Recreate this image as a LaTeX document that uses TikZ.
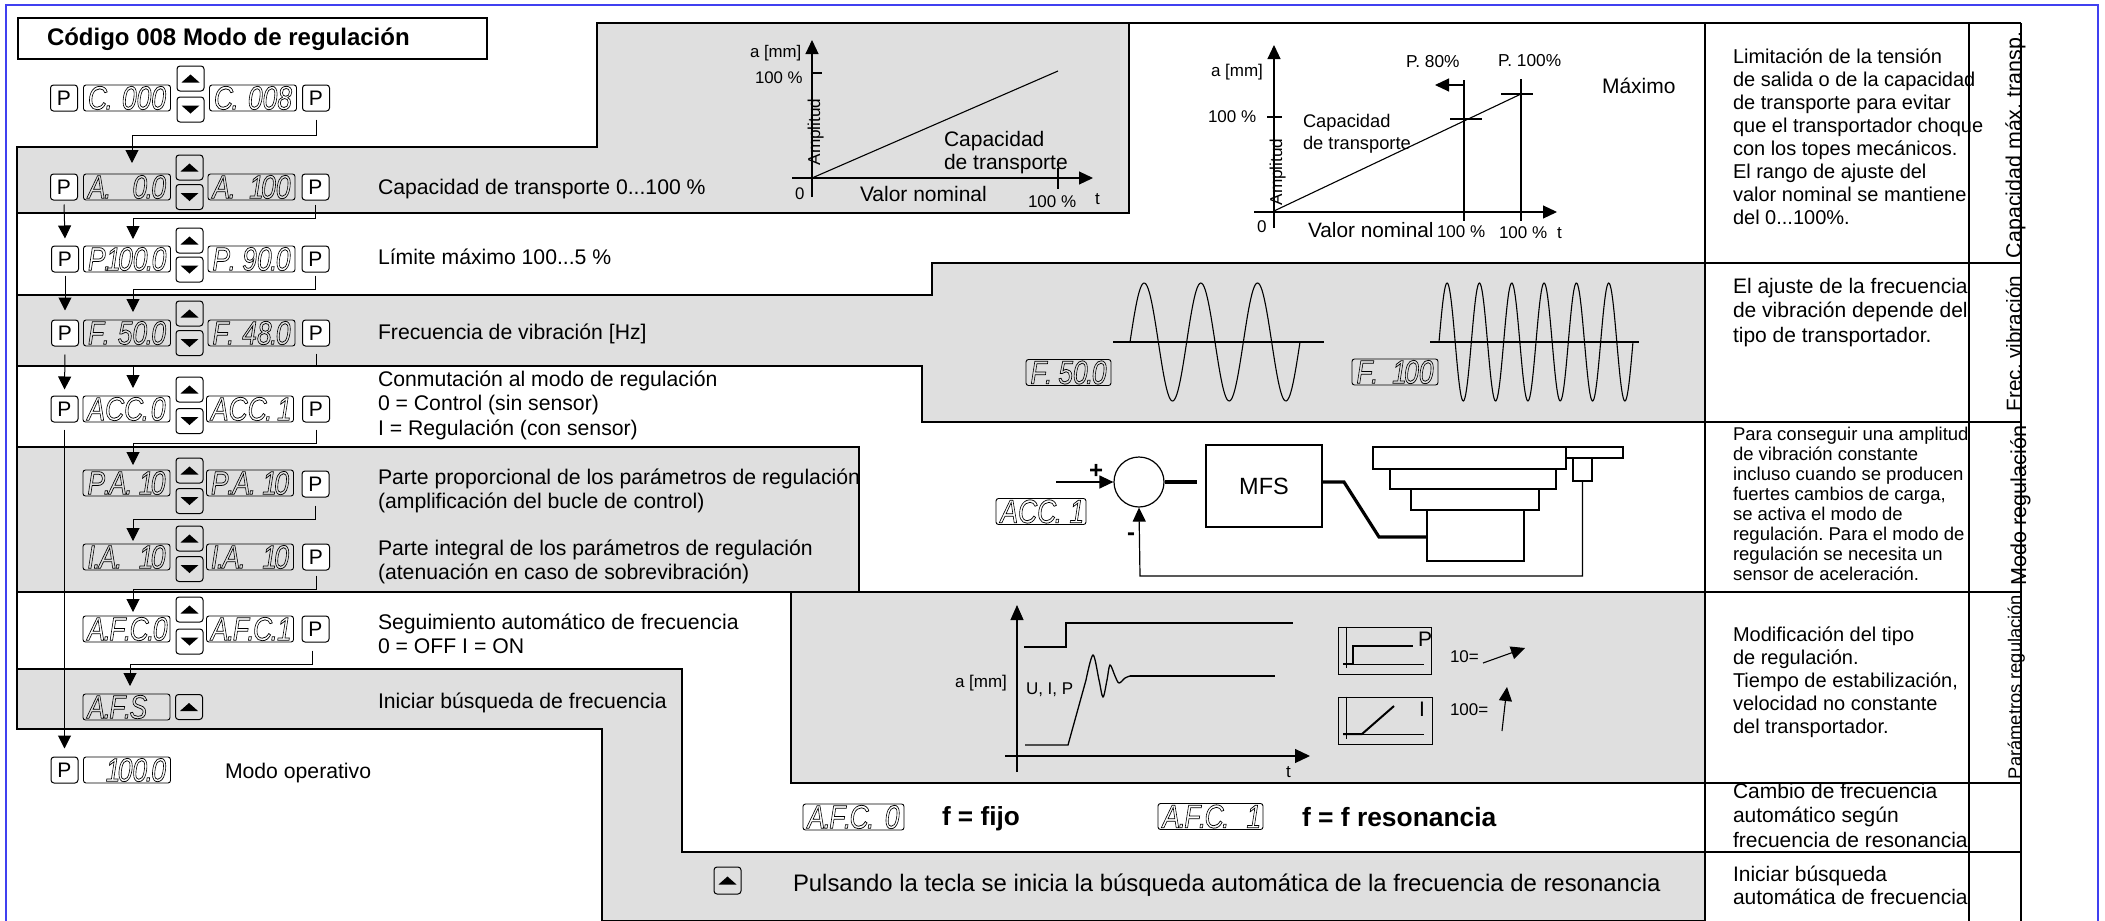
\documentclass[tikz,border=0pt]{standalone}
\usepackage{fontspec}
\setmainfont{Liberation Sans}
\usetikzlibrary{arrows.meta,calc}
\definecolor{panel}{HTML}{DFDFDF}
\definecolor{frameblue}{RGB}{64,64,240}
\frenchspacing
\newcommand\dd{{\kern-.06em.\kern-.06em}}
\newcommand\onee{{\kern-.14em 1\kern-.1em}}
\newcommand\ledtxt[1]{\scalebox{.8}[1]{\special{pdf:code 1 Tr 0.75 w}\itshape\fontsize{33}{33}\selectfont #1\special{pdf:code 0 Tr 1 w}}}
\newcommand\lne[1]{\hbox{#1}}
% name, x, y (first baseline), size, line skip, lines
\newcommand\mt[6]{\node[txt,font=\fontsize{#4}{#5}\selectfont] (#1) at (#2,#3) {\vtop{\baselineskip=#5pt #6}};}
% name, cx, cy, width, left part, right part
\newcommand\dsp[6]{\node[disp,minimum width=#4pt] (#1) at (#2,#3) {\hbox to \dimexpr#4pt-9pt\relax{\ledtxt{#5}\hfill\ledtxt{#6}}};}
\tikzset{
  txt/.style={anchor=base west,inner sep=0pt,outer sep=0pt},
  vtxt/.style={anchor=base,inner sep=0pt,outer sep=0pt,rotate=90},
  region/.style={fill=panel,draw=black,line width=1.5pt},
  rule/.style={draw=black,line width=1.2pt},
  axis/.style={draw=black,line width=1.1pt},
  trace/.style={draw=black,line width=1.3pt},
  heavy/.style={draw=black,line width=3.2pt},
  flow/.style={draw=black,line width=1pt,-{Triangle[length=13pt,width=13pt]}},
  bigtip/.style={draw=black,line width=1.1pt,-{Triangle[length=14pt,width=14pt]}},
  pkey/.style={draw=black,fill=white,line width=1pt,rounded corners=3pt,minimum width=27pt,minimum height=26pt,inner sep=0pt,font=\fontsize{21}{21}\selectfont},
  arrowkey/.style={draw=black,line width=1pt,rounded corners=3pt,minimum width=27pt,minimum height=25pt,inner sep=0pt},
  upkey/.style={arrowkey,path picture={\fill[black,sharp corners] (path picture bounding box.center) ++(-9,4) -- ++(18,0) -- ++(-9,-8) -- cycle;}},
  downkey/.style={arrowkey,path picture={\fill[black,sharp corners] (path picture bounding box.center) ++(-9,-4) -- ++(18,0) -- ++(-9,8) -- cycle;}},
  disp/.style={draw=black,line width=.9pt,rounded corners=2.5pt,minimum height=26pt,inner sep=0pt},
  box/.style={draw=black,line width=1.2pt,inner sep=0pt}
}
\begin{document}
\begin{tikzpicture}[x=1pt,y=-1pt]
\useasboundingbox (0,0) rectangle (2105,921);
\fill[white] (0,0) rectangle (2105,921);
% page frame
\draw[frameblue,line width=1.5pt] (6,921) -- (6,5) -- (2098,5) -- (2098,921);
% shaded panels
\path[region] (597,23) -- (1129,23) -- (1129,213) -- (17,213) -- (17,147) -- (597,147) -- cycle;
\path[region] (932,263) -- (1705,263) -- (1705,422) -- (922,422) -- (922,366) -- (17,366) -- (17,295) -- (932,295) -- cycle;
\path[region] (17,447) -- (859,447) -- (859,592) -- (17,592) -- cycle;
\path[region] (791,592) -- (1705,592) -- (1705,783) -- (791,783) -- cycle;
\path[region] (17,669) -- (682,669) -- (682,852) -- (1705,852) -- (1705,921) -- (602,921) -- (602,729) -- (17,729) -- cycle;
% table rules
\draw[region,fill=none] (17,147) -- (17,729);
\draw[rule] (1129,23) -- (2021,23);
\draw[rule,line width=1.5pt] (1705,23) -- (1705,921);
\draw[rule,line width=1.5pt] (1969,23) -- (1969,921);
\draw[rule] (2021,23) -- (2021,921);
\foreach \yy in {263,422,592,783,852} {\draw[rule] (1705,\yy) -- (2021,\yy);}
% title
\node[box,fill=white,minimum width=469pt,minimum height=41pt] (titlebox) at (252.5,38.5) {};
\mt{title}{47}{45}{24}{28}{\lne{\bfseries Código 008 Modo de regulación}}

% row C
\node[pkey] (p0a) at (64,98) {P};
\dsp{d0a}{127}{98}{87}{C\dd}{000}
\node[upkey] (u0) at (190.5,78.5) {};
\node[downkey] (w0) at (190.5,109.5) {};
\dsp{d0b}{253}{98}{87}{C\dd}{008}
\node[pkey] (p0b) at (316,98) {P};
% row A
\node[pkey] (p1a) at (64,187) {P};
\dsp{d1a}{127}{187}{87}{A\dd}{0\dd 0}
\node[upkey] (u1) at (189.5,167.5) {};
\node[downkey] (w1) at (189.5,197) {};
\dsp{d1b}{251.5}{187}{87}{A\dd}{\onee 00}
\node[pkey] (p1b) at (315.5,187) {P};
% row P
\node[pkey] (p2a) at (65,259) {P};
\dsp{d2a}{127}{259}{87}{P\dd}{\onee 00\dd 0}
\node[upkey] (u2) at (189.5,240.5) {};
\node[downkey] (w2) at (189.5,269.5) {};
\dsp{d2b}{251.5}{259}{87}{P\dd}{90\dd 0}
\node[pkey] (p2b) at (315.5,259) {P};
% row F
\node[pkey] (p3a) at (65,333) {P};
\dsp{d3a}{127}{333}{87}{F\dd}{50\dd 0}
\node[upkey] (u3) at (189.5,313.5) {};
\node[downkey] (w3) at (189.5,343) {};
\dsp{d3b}{251.5}{333}{87}{F\dd}{48\dd 0}
\node[pkey] (p3b) at (316,333) {P};
% row ACC
\node[pkey] (p4a) at (64.5,409) {P};
\dsp{d4a}{126.5}{409}{87}{ACC\dd}{0}
\node[upkey] (u4) at (189.5,389.5) {};
\node[downkey] (w4) at (189.5,421) {};
\dsp{d4b}{250}{409}{87}{ACC\dd}{\onee}
\node[pkey] (p4b) at (316,409) {P};
% row P.A.
\dsp{d5a}{126.5}{483}{87}{P\dd A\dd}{\onee 0}
\node[upkey] (u5) at (189.5,470.5) {};
\node[downkey] (w5) at (189.5,501) {};
\dsp{d5b}{250}{483}{87}{P\dd A\dd}{\onee 0}
\node[pkey] (p5b) at (315.5,484) {P};
% row I.A.
\dsp{d6a}{126.5}{557}{87}{I\dd A\dd}{\onee 0}
\node[upkey] (u6) at (189.5,538.5) {};
\node[downkey] (w6) at (189.5,569) {};
\dsp{d6b}{250}{557}{87}{I\dd A\dd}{\onee 0}
\node[pkey] (p6b) at (316,557) {P};
% row A.F.C.
\dsp{d7a}{126.5}{629}{87}{A\dd F\dd C\dd}{0}
\node[upkey] (u7) at (189.5,609.5) {};
\node[downkey] (w7) at (189.5,641.5) {};
\dsp{d7b}{250}{629}{87}{A\dd F\dd C\dd}{\onee}
\node[pkey] (p7b) at (315.5,629) {P};
% row A.F.S.
\dsp{d8a}{126.5}{707}{87}{A\dd F\dd S}{}
\node[upkey] (u8) at (189,707) {};
% operating mode
\node[pkey] (p9a) at (64.5,770) {P};
\dsp{d9a}{127}{770}{87}{}{\onee 00\dd 0}

% connector ends
\coordinate (c1) at (132,163);
\coordinate (c2) at (133,239);
\coordinate (c3) at (133,312);
\coordinate (c4) at (133,388);
\coordinate (c5) at (133,465);
\coordinate (c6) at (133,541);
\coordinate (c7) at (133,612);
\coordinate (c8) at (130,686);
% connectors
\draw[flow] ([yshift=-8pt]p0b.south) -- ++(0,16) -| (c1);
\draw[flow] ([yshift=-4pt]p1b.south) -- ++(0,14) -| (c2);
\draw[flow] ([yshift=-3pt]p2b.south) -- ++(0,14) -| (c3);
\draw[flow] ([yshift=-7pt]p3b.south) -- ++(0,13) -| (c4);
\draw[flow] ([yshift=-7pt]p4b.south) -- ++(0,14) -| (c5);
\draw[flow] ([yshift=-8pt]p5b.south) -- ++(0,14) -| (c6);
\draw[flow] ([yshift=-5pt]p6b.south) -- ++(0,14) -| (c7);
\draw[flow] ([yshift=-8pt,xshift=-3pt]p7b.south) -- ++(0,14) -| (c8);
\draw[flow] ([yshift=-4pt]p1a.south) -- ([yshift=7pt]p2a.north);
\draw[flow] ([yshift=-3pt]p2a.south) -- ([yshift=9pt]p3a.north);
\draw[flow] ([yshift=-8pt]p3a.south) -- ([yshift=6pt]p4a.north);
\draw[flow] ([yshift=-7pt]p4a.south) -- ([yshift=8pt]p9a.north);

% row descriptions
\mt{t1}{378}{194}{21.2}{24.5}{\lne{Capacidad de transporte 0...100 \%}}
\mt{t2}{378}{264}{21.2}{24.5}{\lne{Límite máximo 100...5 \%}}
\mt{t3}{378}{339}{21.2}{24.5}{\lne{Frecuencia de vibración [Hz]}}
\mt{t4}{378}{386}{21.2}{24.5}{\lne{Conmutación al modo de regulación}\lne{0 = Control (sin sensor)}\lne{I = Regulación (con sensor)}}
\mt{t5}{378}{484}{21.2}{24.5}{\lne{Parte proporcional de los parámetros de regulación}\lne{(amplificación del bucle de control)}}
\mt{t6}{378}{555}{21.2}{24.5}{\lne{Parte integral de los parámetros de regulación}\lne{(atenuación en caso de sobrevibración)}}
\mt{t7}{378}{629}{21.2}{24.5}{\lne{Seguimiento automático de frecuencia}\lne{0 = OFF I = ON}}
\mt{t8}{378}{708}{21.2}{24.5}{\lne{Iniciar búsqueda de frecuencia}}
\mt{t9}{225}{778}{21.2}{24.5}{\lne{Modo operativo}}

% chart 1
\draw[axis,-{Triangle[length=14pt,width=13pt]}] (812,197) -- (812,40);
\draw[axis,-{Triangle[length=14pt,width=13pt]}] (792,178) -- (1093,178);
\draw[axis] (812,73) -- (822,73);
\draw[axis] (1058,168) -- (1058,189);
\draw[axis] (812,178) -- (1058,71);
\mt{a1}{750}{57}{16.8}{20}{\lne{a [mm]}}
\mt{a2}{755}{83}{16.8}{20}{\lne{100 \%}}
\mt{a3}{795}{199}{16.8}{20}{\lne{0}}
\mt{a4}{860}{201}{21}{24}{\lne{Valor nominal}}
\mt{a5}{1028}{207}{17}{20}{\lne{100 \%}}
\mt{a6}{1095}{204}{17}{20}{\lne{t}}
\mt{a7}{944}{146}{21}{23}{\lne{Capacidad}\lne{de transporte}}
\node[vtxt,font=\fontsize{17.2}{20}\selectfont] (a8) at (820,132) {Amplitud};

% chart 2
\draw[axis,-{Triangle[length=14pt,width=13pt]}] (1274,228) -- (1274,45);
\draw[axis,-{Triangle[length=14pt,width=13pt]}] (1254,212) -- (1557,212);
\draw[axis] (1267,117) -- (1282,117);
\draw[axis] (1274,211) -- (1521,94);
\draw[axis] (1464,80) -- (1464,221);
\draw[axis] (1521,79) -- (1521,221);
\draw[axis] (1450,119) -- (1482,119);
\draw[axis] (1501,94) -- (1533,94);
\draw[axis,-{Triangle[length=14pt,width=13pt]}] (1464,85) -- (1435,85);
\mt{b1}{1211}{76}{17}{20}{\lne{a [mm]}}
\mt{b2}{1208}{122}{17}{20}{\lne{100 \%}}
\mt{b3}{1257}{232}{17}{20}{\lne{0}}
\mt{b4}{1308}{237}{20.8}{24}{\lne{Valor nominal}}
\mt{b5}{1437}{237}{17}{20}{\lne{100 \%}}
\mt{b6}{1499}{238}{17}{20}{\lne{100 \%}}
\mt{b7}{1557}{238}{17}{20}{\lne{t}}
\mt{b8}{1303}{127}{18.3}{22}{\lne{Capacidad}\lne{de transporte}}
\mt{b9}{1406}{67}{17.3}{20}{\lne{P. 80\%}}
\mt{b10}{1498}{66}{17.3}{20}{\lne{P. 100\%}}
\mt{b11}{1602}{93}{21}{24}{\lne{Máximo}}
\node[vtxt,font=\fontsize{17.2}{20}\selectfont] (b12) at (1282,172) {Amplitud};

% vibration frequency
\dsp{fa}{1068.5}{372.5}{85}{F\dd}{50\dd 0}
\dsp{fb}{1395}{372}{86}{F\dd}{\onee 00}
\draw[axis] (1113,342) -- (1324,342);
\draw[axis] (1430,342) -- (1639,342);
\draw[axis] plot[domain=0:3,samples=150] ({1130+56.67*\x},{342-59*sin(360*\x)});
\draw[axis] plot[domain=0:6,samples=240] ({1439+32.33*\x},{342-59*sin(360*\x)});

% control loop
\dsp{acc}{1041}{511.5}{90}{ACC\dd}{\onee}
\node[draw=black,line width=1.2pt,circle,minimum size=50pt,inner sep=0pt] (sum) at (1139,482) {};
\node[box,minimum width=116pt,minimum height=82pt,font=\fontsize{23.5}{26}\selectfont] (mfs) at (1264,486) {MFS};
\coordinate (inp) at (1056,482);
\coordinate (h1) at (1344,482);
\coordinate (h2) at (1379,537);
\node[box,minimum width=193pt,minimum height=22pt] (s1) at (1469.5,458) {};
\node[box,minimum width=166pt,minimum height=20pt] (s2) at (1473,479) {};
\node[box,minimum width=128pt,minimum height=21pt] (s3) at (1475,499.5) {};
\node[box,minimum width=97pt,minimum height=51pt] (s4) at (1475.5,535.5) {};
\node[box,minimum width=57pt,minimum height=11pt] (s5) at (1594.5,452.5) {};
\node[box,minimum width=19pt,minimum height=23pt] (s6) at (1582.5,469.5) {};
\draw[flow,line width=1.2pt,-{Triangle[length=14pt,width=13pt]}] (inp) -- (sum.west);
\draw[heavy] (sum.east) -- ([xshift=-8pt]mfs.west |- sum.east);
\draw[heavy] (mfs.east |- h1) -- (h1) -- (h2) -- (s4.west |- h2);
\draw[flow,line width=1.2pt,-{Triangle[length=14pt,width=13pt]}] (s6.south) |- (1140,576) -- (sum.south);
\mt{pl}{1089}{478}{24}{26}{\lne{\bfseries +}}
\mt{mi}{1127}{540}{24}{26}{\lne{\bfseries -}}

% step response
\draw[axis,-{Triangle[length=15pt,width=13pt]}] (1017,772) -- (1017,605);
\draw[axis,-{Triangle[length=15pt,width=14pt]}] (1005,756) -- (1310,756);
\draw[trace] (1024,647) -- (1066,647) -- (1066,623) -- (1293,623);
\draw[trace] (1025,745) -- (1068,745) -- (1086,680);
\draw[trace] plot[smooth,tension=.55] coordinates {(1086,680) (1093,655) (1099,680) (1103,697) (1107,680) (1110,665) (1115,676) (1119,683) (1125,678) (1130,676)};
\draw[trace] (1130,676) -- (1275,676);
\mt{c1t}{955}{687}{17}{20}{\lne{a [mm]}}
\mt{c2t}{1026}{694}{17}{20}{\lne{U, I, P}}
\mt{c3t}{1286}{777}{17}{20}{\lne{t}}
\node[box,line width=1pt,minimum width=93pt,minimum height=47pt] (pbox) at (1384.5,650.5) {};
\draw[axis,line width=.8pt] (pbox.north -| 1346,0) -- (1346,668);
\draw[axis,line width=.8pt] (1343,664) -- (1424,664);
\draw[axis,line width=2pt] (1343,664) -- (1353,664) -- (1353,646) -- (1413,646);
\mt{c4t}{1418}{646}{21}{24}{\lne{P}}
\node[box,line width=1pt,minimum width=94pt,minimum height=47pt] (ibox) at (1385,720.5) {};
\draw[axis,line width=.8pt] (ibox.north -| 1346,0) -- (1346,739);
\draw[axis,line width=.8pt] (1343,734) -- (1424,734);
\draw[axis,line width=2pt] (1343,734) -- (1362,734) -- (1394,706);
\mt{c5t}{1419}{716}{21}{24}{\lne{I}}
\mt{c6t}{1450}{662}{17}{20}{\lne{10=}}
\mt{c7t}{1450}{715}{17}{20}{\lne{100=}}
\coordinate (e1) at (1483,663);
\coordinate (e2) at (1525,648);
\coordinate (e3) at (1502,731);
\coordinate (e4) at (1507,687);
\draw[axis,-{Triangle[length=14pt,width=13pt]}] (e1) -- (e2);
\draw[axis,-{Triangle[length=14pt,width=13pt]}] (e3) -- (e4);

% automatic frequency row
\dsp{ea}{853.5}{817}{101}{A\dd F\dd C\dd}{0}
\mt{e1t}{942}{825}{26.2}{30}{\lne{\bfseries f = fijo}}
\dsp{eb}{1210.5}{816.5}{105}{A\dd F\dd C\dd}{\onee}
\mt{e2t}{1302}{826}{26.4}{30}{\lne{\bfseries f = f resonancia}}
% search row
\node[upkey,minimum height=27pt] (su) at (727.5,880.5) {};
\mt{e3t}{793}{891}{23.9}{26}{\lne{Pulsando la tecla se inicia la búsqueda automática de la frecuencia de resonancia}}

% explanation column
\mt{r1}{1733}{63}{20}{23}{\lne{Limitación de la tensión}\lne{de salida o de la capacidad}\lne{de transporte para evitar}\lne{que el transportador choque}\lne{con los topes mecánicos.}\lne{El rango de ajuste del}\lne{valor nominal se mantiene}\lne{del 0...100\%.}}
\mt{r2}{1733}{293}{21}{24.5}{\lne{El ajuste de la frecuencia}\lne{de vibración depende del}\lne{tipo de transportador.}}
\mt{r3}{1733}{440}{18.5}{20}{\lne{Para conseguir una amplitud}\lne{de vibración constante}\lne{incluso cuando se producen}\lne{fuertes cambios de carga,}\lne{se activa el modo de}\lne{regulación. Para el modo de}\lne{regulación se necesita un}\lne{sensor de aceleración.}}
\mt{r4}{1733}{641}{20}{23}{\lne{Modificación del tipo}\lne{de regulación.}\lne{Tiempo de estabilización,}\lne{velocidad no constante}\lne{del transportador.}}
\mt{r5}{1733}{798}{21}{24.5}{\lne{Cambio de frecuencia}\lne{automático según}\lne{frecuencia de resonancia}}
\mt{r6}{1733}{881}{21}{23.5}{\lne{Iniciar búsqueda}\lne{automática de frecuencia}}

% side labels
\node[vtxt,font=\fontsize{21.4}{24}\selectfont] (v1) at (2021,145) {Capacidad máx. transp.};
\node[vtxt,font=\fontsize{20.7}{24}\selectfont] (v2) at (2021,343.5) {Frec. vibración};
\node[vtxt,font=\fontsize{21.6}{24}\selectfont] (v3) at (2026,505.5) {Modo regulación};
\node[vtxt,font=\fontsize{18.3}{22}\selectfont] (v4) at (2021,687) {Parámetros regulación};
\end{tikzpicture}
\end{document}
